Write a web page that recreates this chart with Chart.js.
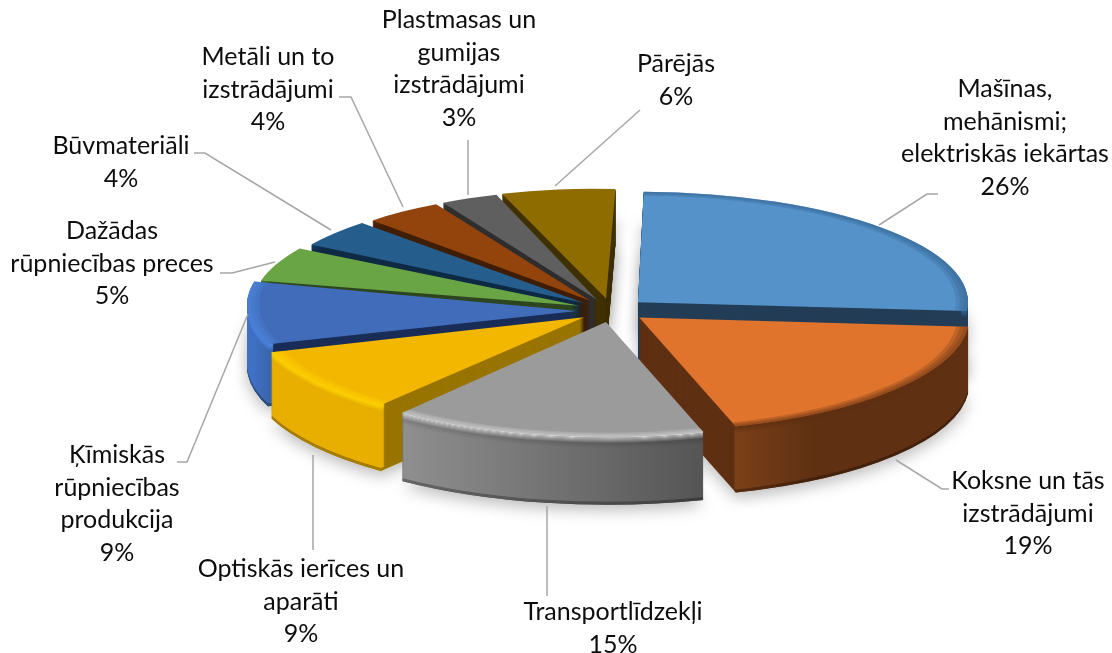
<!DOCTYPE html>
<html>
<head>
<meta charset="utf-8">
<style>
  html, body { margin: 0; background: #fff; }
  #wrap { position: relative; width: 1112px; height: 653px; }
</style>
</head>
<body>
<div id="wrap"><canvas id="pie"></canvas></div>
<script src="https://cdn.jsdelivr.net/npm/chart.js@4/dist/chart.umd.js"></script>
<script>
const categories = [
    ['Mašīnas,', 'mehānismi;', 'elektriskās iekārtas'],
    ['Koksne un tās', 'izstrādājumi'],
    ['Transportlīdzekļi'],
    ['Optiskās ierīces un', 'aparāti'],
    ['Ķīmiskās', 'rūpniecības', 'produkcija'],
    ['Dažādas', 'rūpniecības preces'],
    ['Būvmateriāli'],
    ['Metāli un to', 'izstrādājumi'],
    ['Plastmasas un', 'gumijas', 'izstrādājumi'],
    ['Pārējās']
];
const shares = [26, 19, 15, 9, 9, 5, 4, 4, 3, 6];

const faceColors = ['#5592c9', '#e0742d', '#9b9b9b', '#f3b700', '#416cb9', '#6aa545', '#255d8d', '#93430c', '#5f5f5f', '#8f6c00'];
const cutColors = ['#233d57', '#5f2f12', '#4f4f4f', '#987400', '#1a2d57', '#2e4620', '#0f2a44', '#3f1e05', '#2e2e2e', '#3f3000'];
const wallColors = [
    ['#233d57', '#233d57'],
    ['#7a4018', '#5f3012', '#5f3012', '#5f3012'],
    ['#8f8f8f', '#555555'],
    ['#e8ae00', '#e8ae00'],
    ['#3f70c4', '#3a66ae'],
    ['#2e4620', '#2e4620'],
    ['#0f2a44', '#0f2a44'],
    ['#3f1e05', '#3f1e05'],
    ['#2e2e2e', '#2e2e2e'],
    ['#3f3000', '#3f3000']
];
const rimColors = ['#2f5f8c', '#5f3012', '#d8d8d8', '#ffd800', '#4f8ae6', '#3f6b28', '#163f63', '#5f2a08', '#3a3a3a', '#5c4600'];
const rimShade = [0, 0, 0.28, 0, 0, 0, 0, 0, 0, 0];
const softEdge = [1, 1, 1, 1, 1, 0, 0, 0, 0, 0];

// back slices first, the front ones paint over them
const drawOrder = [9, 8, 7, 6, 5, 4, 3, 0, 1, 2];

const EXPLODE = 35;
const RADIUS = 330;
const RING = 6;
const PERSPECTIVE_BACK = 0.001;
const PERSPECTIVE_FRONT = 0.0003;

// label centre x and the y of each line's middle
const labelX = [1005, 1028, 613, 301, 117, 112, 121, 268, 459, 676];
const labelY = [89, 481, 612, 569, 455, 231, 146, 57, 20, 64];
const LINE_H = 32.7;

const leaders = [
    [[879, 225], [927, 194], [938, 194]],
    [[896, 460], [942, 489], [949, 489]],
    [[547, 506], [547, 596]],
    [[313, 455], [313, 550]],
    [[248, 314], [187, 462], [177, 462]],
    [[275, 262], [232, 273], [220, 273]],
    [[331, 230], [205, 153], [194, 153]],
    [[403, 207], [351, 97], [339, 97]],
    [[468, 195], [468, 140]],
    [[555, 186], [640, 110]]
];

function sliceGeom(el) {
    const mid = (el.startAngle + el.endAngle) / 2;
    const sin = Math.sin(mid), cos = Math.cos(mid);
    const k = 0.34 + 0.008 * sin;   // nearer side looks a bit taller
    const g = {
        dx: cos * EXPLODE,
        dy: sin * EXPLODE,
        k: k,
        front: sin > 0,
        depth: Math.round(62 + 6 * sin),
        a: 1, b: 0, c: 0
    };
    // left half: the 3D view squeezes the far part and widens the near part
    if (cos < 0) {
        const p = sin < 0 ? PERSPECTIVE_BACK * -sin : PERSPECTIVE_FRONT * sin;
        const xc = 0.67 * RADIUS * cos;
        const yc = 0.67 * RADIUS * k * sin;
        g.a = 1 + p * yc;
        g.c = p * xc;
        g.b = sin < 0 ? 0.02 * -sin : 0.02 * -cos;
    }
    return g;
}

function paint(ctx, el, g, d, fill, inner) {
    const ghost = Object.create(el);
    ghost.options = Object.assign({}, el.options, { backgroundColor: fill });
    if (inner) ghost.innerRadius = inner;
    ctx.save();
    ctx.translate(el.x + g.dx, el.y + g.dy * g.k + d);
    ctx.transform(g.a, g.b, g.c, 1, 0, 0);
    ctx.scale(1, g.k);
    ctx.translate(-el.x, -el.y);
    ghost.draw(ctx);
    ctx.restore();
}

function wallGradient(ctx, el, g, stops) {
    const x0 = el.x + RADIUS * Math.cos(el.startAngle);
    const x1 = el.x + RADIUS * Math.cos(el.endAngle);
    const grad = ctx.createLinearGradient(Math.min(x0, x1), 0, Math.max(x0, x1), 0);
    stops.forEach((c, n) => grad.addColorStop(n / (stops.length - 1), c));
    return grad;
}

const pie3d = {
    id: 'pie3d',
    beforeDatasetsDraw(chart) {
        const ctx = chart.ctx;
        const arcs = chart.getDatasetMeta(0).data;

        // soft shadow under the whole pie
        ctx.save();
        ctx.shadowColor = 'rgba(0,0,0,0.28)';
        ctx.shadowBlur = 16;
        ctx.shadowOffsetY = 5;
        drawOrder.forEach(i => {
            const g = sliceGeom(arcs[i]);
            paint(ctx, arcs[i], g, g.depth, '#ffffff');
            paint(ctx, arcs[i], g, g.depth - 30, '#ffffff');
        });
        ctx.restore();

        drawOrder.forEach(i => {
            const el = arcs[i];
            const g = sliceGeom(el);
            const grad = wallGradient(ctx, el, g, wallColors[i]);
            // cut faces: the whole slice swept down in the dark colour
            for (let d = g.depth; d >= 1; d--) {
                paint(ctx, el, g, d, cutColors[i]);
            }
            // round outer wall on top of that, lower rings get covered by the upper ones
            for (let d = g.depth; d >= 1; d--) {
                paint(ctx, el, g, d, grad, RADIUS - RING);
                if (g.front && d >= g.depth - 2) {
                    paint(ctx, el, g, d, 'rgba(0,0,0,0.3)', RADIUS - RING);
                }
                if (rimShade[i] && d <= 12) {
                    ctx.save();
                    ctx.globalAlpha = rimShade[i] * (1 - d / 12);
                    paint(ctx, el, g, d, '#000000', RADIUS - RING);
                    ctx.restore();
                }
                if (d <= 6) {
                    ctx.save();
                    ctx.globalAlpha = 1 - (d - 1) / 6;
                    paint(ctx, el, g, d, rimColors[i], RADIUS - RING);
                    ctx.restore();
                }
            }
            paint(ctx, el, g, 0, faceColors[i]);
            // soft edge of the top face
            if (softEdge[i]) {
                [12, 8, 4].forEach(w => {
                    ctx.save();
                    ctx.globalAlpha = 0.25;
                    paint(ctx, el, g, 0, rimColors[i], RADIUS - w);
                    ctx.restore();
                });
            }
        });
        return false;
    },
    afterDraw(chart) {
        const ctx = chart.ctx;
        ctx.save();
        ctx.strokeStyle = '#a6a6a6';
        ctx.lineWidth = 1.5;
        leaders.forEach(pts => {
            ctx.beginPath();
            pts.forEach((p, n) => n ? ctx.lineTo(p[0], p[1]) : ctx.moveTo(p[0], p[1]));
            ctx.stroke();
        });
        ctx.fillStyle = '#0d0d0d';
        ctx.font = '25px Lato';
        ctx.textAlign = 'center';
        ctx.textBaseline = 'middle';
        categories.forEach((lines, i) => {
            const all = lines.concat(shares[i] + '%');
            all.forEach((t, n) => ctx.fillText(t, labelX[i], labelY[i] + n * LINE_H));
        });
        ctx.restore();
    }
};

new Chart(document.getElementById('pie'), {
    type: 'pie',
    data: {
        labels: categories.map(l => l.join(' ')),
        datasets: [{ data: shares, backgroundColor: faceColors, borderWidth: 0, rotation: 1 }]
    },
    options: {
        responsive: true,
        maintainAspectRatio: false,
        animation: false,
        radius: RADIUS,
        layout: { padding: { left: 112, bottom: 33 } },
        plugins: { legend: { display: false }, tooltip: { enabled: false } }
    },
    plugins: [pie3d]
});
</script>
</body>
</html>
